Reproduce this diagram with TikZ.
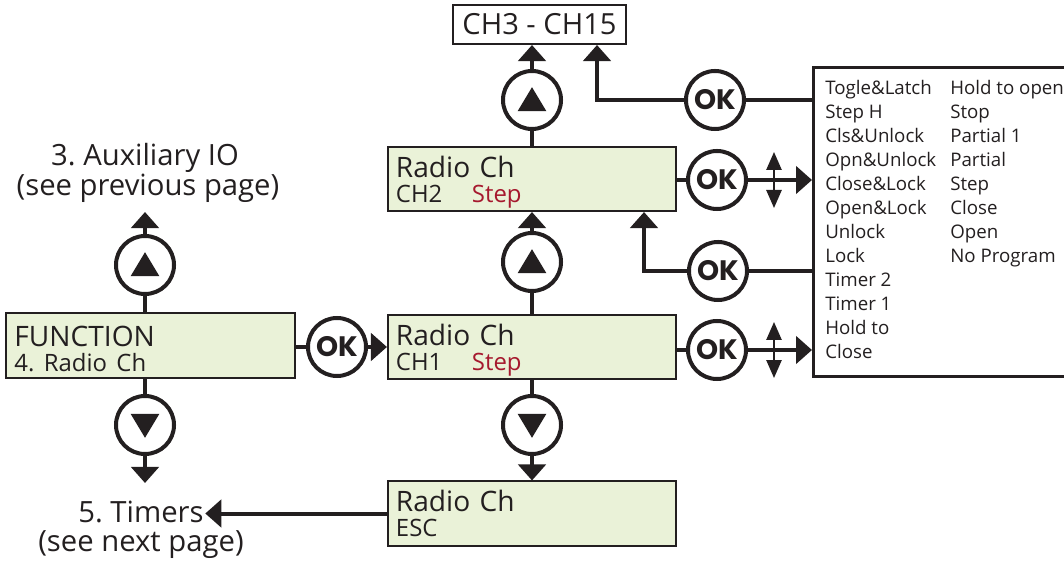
\documentclass[tikz,border=0pt]{standalone}
\usepackage{fontspec}
\setmainfont{Open Sans}
\newfontfamily\okfont{Poppins}
\usepackage{xcolor}
\usepackage{tikz}
\usetikzlibrary{arrows.meta,calc}
\definecolor{inkblack}{HTML}{231F20}
\definecolor{lcdgreen}{HTML}{EAF2D8}
\definecolor{stepred}{HTML}{A6192E}
\newcommand{\lcdstrut}{\rule{0pt}{20pt}}
\tikzset{
  lcd/.style={draw=inkblack, fill=lcdgreen, line width=0.05cm, minimum width=7.2cm, minimum height=1.6cm, text width=6.8cm, align=left, inner xsep=0.2cm, inner ysep=0pt, font=\fontsize{20}{17.8}\selectfont},
  chbox/.style={draw=inkblack, fill=white, line width=0.05cm, minimum width=4.325cm, minimum height=0.975cm, inner sep=0pt, font=\fontsize{20.7}{24}\selectfont},
  listbox/.style={draw=inkblack, line width=0.08cm, minimum width=7cm, minimum height=7.725cm, inner sep=0pt},
  btn/.style={circle, draw=inkblack, line width=0.1cm, fill=white, minimum size=1.45cm, inner sep=0pt},
  okbtn/.style={btn, font=\okfont\bfseries\fontsize{20}{20}\selectfont},
  navup/.style={btn, path picture={\fill[inkblack] ($(path picture bounding box.center)+(0,0.32cm)$) -- ++(-0.36cm,-0.6cm) -- ++(0.72cm,0) -- cycle;}},
  navdown/.style={btn, path picture={\fill[inkblack] ($(path picture bounding box.center)+(0,-0.32cm)$) -- ++(-0.36cm,0.6cm) -- ++(0.72cm,0) -- cycle;}},
  note/.style={inner sep=1pt, font=\fontsize{20.8}{21.3}\selectfont},
  wire/.style={line width=0.1cm},
  arrow/.style={-{Triangle[length=0.4cm,width=0.68cm]}, line width=0.1cm},
  updown/.style={{Triangle[length=0.45cm,width=0.38cm]}-{Triangle[length=0.45cm,width=0.38cm]}, line width=0.05cm}
}
\begin{document}
\frenchspacing
\begin{tikzpicture}[x=0.025cm,y=-0.025cm,color=inkblack]
  \useasboundingbox (0,0) rectangle (1064,563);

  % menu screens
  \node[lcd] (func) at (150.5,345.5) {\lcdstrut FUNCTION\\{\fontsize{17}{17.8}\selectfont 4. Radio Ch}};
  \node[lcd] (ch1) at (532,347) {\lcdstrut Radio Ch\\{\fontsize{17}{17.8}\selectfont\makebox[1.9cm][l]{CH1}\textcolor{stepred}{Step}}};
  \node[lcd] (ch2) at (532,179) {\lcdstrut Radio Ch\\{\fontsize{17}{17.8}\selectfont\makebox[1.9cm][l]{CH2}\textcolor{stepred}{Step}}};
  \node[lcd] (esc) at (532,513.5) {\lcdstrut Radio Ch\\{\fontsize{17}{17.8}\selectfont ESC\strut}};
  \node[chbox] (ch315) at (539.5,24.5) {CH3 - CH15};

  % option list
  \node[listbox, anchor=north west] (list) at (812,66) {};
  \node[anchor=north west, inner sep=0pt, font=\fontsize{13.3}{17.07}\selectfont] (listtext) at (825,77) {%
    \begin{tabular}{@{}p{3.125cm}@{}l@{}}
      Togle\&Latch & Hold to open\\
      Step H & Stop\\
      Cls\&Unlock & Partial 1\\
      Opn\&Unlock & Partial\\
      Close\&Lock & Step\\
      Open\&Lock & Close\\
      Unlock & Open\\
      Lock & No Program\\
      Timer 2 & \\
      Timer 1 & \\
      Hold to & \\
      Close & \\
    \end{tabular}};

  % side notes
  \node[note] (auxtitle) at (145,158) {3. Auxiliary IO};
  \node[note] (auxnote) at (148,188) {(see previous page)};
  \node[note] (timers) at (141,512) {5. Timers};
  \node[note] (timersnote) at (141,545) {(see next page)};
  \coordinate (auxin) at (145,212);
  \coordinate (timin) at (145,483);

  % buttons
  \node[navup] (upF) at (145,265) {};
  \node[navdown] (downF) at (145,425) {};
  \node[navup] (upTop) at (532,100) {};
  \node[navup] (upMid) at (532,262) {};
  \node[navdown] (downMid) at (532,425) {};
  \node[okbtn] (okA) at (337,347) {OK};
  \node[okbtn] (okB) at (717,180) {OK};
  \node[okbtn] (okC) at (717,350) {OK};
  \node[okbtn] (okTop) at (715,100) {OK};
  \node[okbtn] (okMid) at (718,271) {OK};
  \coordinate (udB) at (774,180);
  \coordinate (udC) at (774,350);

  \draw[wire] (upF |- func.north) -- (upF);
  \draw[arrow] (upF) -- (auxin);
  \draw[wire] (downF |- func.south) -- (downF);
  \draw[arrow] (downF) -- (timin);
  \draw[wire] (func.east |- okA) -- (okA);
  \draw[arrow] (okA) -- (okA -| ch1.west);

  \draw[wire] (upMid |- ch1.north) -- (upMid);
  \draw[arrow] (upMid) -- (upMid |- ch2.south);
  \draw[wire] (upTop |- ch2.north) -- (upTop);
  \draw[arrow] (upTop) -- (upTop |- ch315.south);
  \draw[wire] (downMid |- ch1.south) -- (downMid);
  \draw[arrow] (downMid) -- (downMid |- esc.north);
  \draw[arrow] (esc.west) -- (esc.west -| timers.east);

  \draw[wire] (ch2.east |- okB) -- (okB);
  \draw[arrow] (okB) -- (okB -| list.west);
  \draw[updown] ([yshift=0.7cm]udB) -- ([yshift=-0.7cm]udB);
  \draw[wire] (ch1.east |- okC) -- (okC);
  \draw[arrow] (okC) -- (okC -| list.west);
  \draw[updown] ([yshift=0.7cm]udC) -- ([yshift=-0.7cm]udC);

  \draw[wire] (okTop -| list.west) -- (okTop);
  \draw[arrow] (okTop.west) -| ([xshift=3.625cm]ch315.south west);
  \draw[wire] (okMid -| list.west) -- (okMid);
  \draw[arrow] (okMid.west) -| ([xshift=6.425cm]ch2.south west);
\end{tikzpicture}
\end{document}
